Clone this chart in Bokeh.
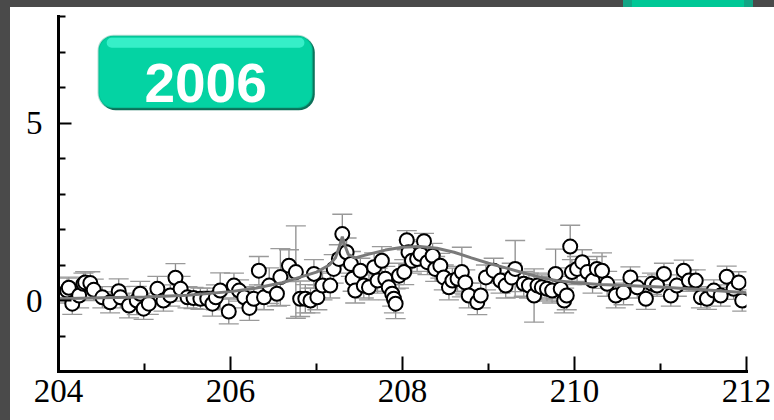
from bokeh.plotting import figure
from bokeh.models import (Range1d, FixedTicker, Whisker, ColumnDataSource, BoxAnnotation,
                          Label, Spacer, TeeHead)
from bokeh.layouts import row, column
from bokeh.embed import file_html
from bokeh.resources import INLINE

# measured points: position, value, uncertainty
x_vals = [204.10, 204.12, 204.16, 204.24, 204.29, 204.31, 204.37, 204.41, 204.51, 204.60,
          204.70, 204.72, 204.82, 204.91, 204.95, 204.99, 205.05, 205.15, 205.22, 205.30,
          205.36, 205.42, 205.50, 205.57, 205.65, 205.73, 205.79, 205.83, 205.88, 205.98,
          206.04, 206.10, 206.16, 206.22, 206.27, 206.33, 206.39, 206.45, 206.54, 206.58,
          206.68, 206.76, 206.81, 206.87, 206.93, 206.97, 207.01, 207.07, 207.16, 207.20,
          207.26, 207.30, 207.35, 207.40, 207.42, 207.45, 207.51, 207.55, 207.61, 207.67,
          207.71, 207.76, 207.80, 207.84, 207.88, 207.90, 207.92, 207.96, 208.02, 208.05,
          208.07, 208.11, 208.17, 208.21, 208.25, 208.29, 208.35, 208.38, 208.44, 208.48,
          208.54, 208.58, 208.64, 208.69, 208.73, 208.77, 208.87, 208.91, 208.97, 209.06,
          209.14, 209.20, 209.27, 209.31, 209.41, 209.47, 209.53, 209.57, 209.62, 209.68,
          209.74, 209.78, 209.84, 209.88, 209.91, 209.95, 209.97, 210.03, 210.09, 210.15,
          210.21, 210.26, 210.32, 210.38, 210.48, 210.57, 210.65, 210.73, 210.83, 210.90,
          210.96, 211.04, 211.12, 211.19, 211.27, 211.33, 211.41, 211.47, 211.54, 211.62,
          211.70, 211.77, 211.85, 211.91, 211.95]
y_vals = [0.28, 0.36, -0.09, 0.14, 0.47, 0.51, 0.49, 0.30, 0.09, -0.05,
          0.26, 0.09, -0.14, 0.00, 0.19, -0.23, -0.09, 0.33, 0.00, 0.14,
          0.64, 0.33, 0.09, 0.07, 0.05, 0.05, -0.09, 0.09, 0.28, -0.31,
          0.42, 0.28, 0.09, -0.21, 0.05, 0.84, 0.09, 0.42, 0.19, 0.66,
          0.98, 0.80, 0.05, 0.05, 0.00, 0.75, 0.09, 0.42, 0.42, 0.89,
          1.17, 1.87, 1.36, 1.03, 0.61, 0.28, 0.84, 0.42, 0.37, 0.94,
          0.56, 1.12, 0.61, 0.37, 0.19, 0.05, -0.09, 0.70, 0.80, 1.70,
          1.36, 1.12, 1.17, 1.31, 1.67, 1.08, 1.26, 0.89, 0.98, 0.65,
          0.37, 0.56, 0.61, 0.80, 0.51, 0.14, -0.05, 0.14, 0.65, 0.84,
          0.56, 0.42, 0.65, 0.89, 0.47, 0.42, 0.14, 0.42, 0.37, 0.33,
          0.28, 0.75, 0.33, 0.00, 0.14, 1.52, 0.80, 0.89, 1.08, 0.80,
          0.56, 0.89, 0.84, 0.47, 0.14, 0.23, 0.65, 0.37, 0.05, 0.47,
          0.42, 0.75, 0.14, 0.42, 0.84, 0.56, 0.56, 0.09, 0.05, 0.28,
          0.14, 0.67, 0.33, 0.51, 0.00]
y_err = [0.35, 0.30, 0.30, 0.35, 0.30, 0.30, 0.32, 0.30, 0.30, 0.30,
         0.35, 0.30, 0.35, 0.40, 0.35, 0.30, 0.30, 0.35, 0.30, 0.30,
         0.40, 0.35, 0.30, 0.30, 0.30, 0.30, 0.35, 0.35, 0.50, 0.35,
         0.35, 0.30, 0.30, 0.35, 0.30, 0.40, 0.35, 0.50, 0.35, 0.80,
         0.45, 1.30, 0.50, 0.40, 0.35, 0.40, 0.35, 0.40, 0.35, 0.40,
         0.40, 0.56, 0.40, 0.35, 0.35, 0.35, 0.35, 0.35, 0.35, 0.40,
         0.35, 0.40, 0.35, 0.35, 0.35, 0.40, 0.42, 0.35, 0.35, 0.27,
         0.35, 0.35, 0.35, 0.35, 0.22, 0.35, 0.35, 0.35, 0.35, 0.35,
         0.35, 0.35, 0.35, 0.70, 0.35, 0.35, 0.35, 0.35, 0.35, 0.35,
         0.35, 0.35, 0.40, 0.80, 0.35, 0.35, 0.75, 0.35, 0.35, 0.35,
         0.35, 0.70, 0.35, 0.35, 0.40, 0.60, 0.35, 0.35, 0.35, 0.35,
         0.35, 0.35, 0.50, 0.35, 0.35, 0.35, 0.30, 0.30, 0.30, 0.30,
         0.30, 0.30, 0.30, 0.30, 0.30, 0.30, 0.30, 0.30, 0.30, 0.30,
         0.30, 0.30, 0.30, 0.30, 0.30]

# fitted curve
fit_x = [204.0, 204.5, 205.0, 205.5, 206.0, 206.3, 206.6, 206.8, 207.0, 207.15,
         207.22, 207.27, 207.30, 207.33, 207.37, 207.45, 207.6, 207.8, 208.0, 208.2,
         208.4, 208.6, 208.8, 209.0, 209.2, 209.4, 209.6, 209.8, 210.0, 210.3,
         210.6, 211.0, 211.5, 212.0]
fit_y = [0.05, 0.08, 0.10, 0.15, 0.25, 0.35, 0.50, 0.65, 0.80, 1.00,
         1.20, 1.55, 1.80, 1.55, 1.30, 1.20, 1.30, 1.42, 1.50, 1.52,
         1.47, 1.36, 1.20, 1.05, 0.92, 0.78, 0.65, 0.56, 0.50, 0.45,
         0.42, 0.38, 0.30, 0.22]

x_major = [204, 206, 208, 210, 212]
x_minor = [205, 207, 209, 211]
y_major = [0, 5]
y_minor = [-1, 1, 2, 3, 4, 6, 7, 8]

DARK = "#4a4a4a"

# slide frame: a thin top strip carrying a green tab, and a left strip
band_css = ("linear-gradient(to right, #4a4a4a 0px, #4a4a4a 613px, #12a585 613px, "
            "#12a585 622px, #00c896 622px, #00c896 734px, #12a585 734px, #12a585 743px, "
            "#4a4a4a 743px, #4a4a4a 764px)")
top_band = Spacer(width=764, height=7, styles={"background": band_css})
left_band = Spacer(width=10, height=420, styles={"background-color": DARK})

src = ColumnDataSource(dict(
    x=x_vals, y=y_vals,
    upper=[v + e for v, e in zip(y_vals, y_err)],
    lower=[v - e for v, e in zip(y_vals, y_err)],
))

p = figure(width=764, height=413, output_backend="svg", toolbar_location=None,
           x_range=Range1d(204, 212), y_range=Range1d(-2, 8),
           min_border_left=48, min_border_right=28, min_border_top=9, min_border_bottom=49)
p.background_fill_color = "white"
p.border_fill_color = "white"
p.outline_line_color = None
p.xgrid.visible = False
p.ygrid.visible = False

for ax in (p.xaxis[0], p.yaxis[0]):
    ax.axis_line_width = 3
    ax.axis_line_cap = "square"
    ax.major_tick_line_width = 2
    ax.minor_tick_line_width = 2
    ax.major_tick_out = 0
    ax.minor_tick_out = 0
    ax.major_label_text_font = "Liberation Serif"
    ax.major_label_text_font_size = "33px"
    ax.major_label_text_color = "black"

p.xaxis[0].ticker = FixedTicker(ticks=x_major, minor_ticks=x_minor)
p.xaxis[0].major_tick_in = 15
p.xaxis[0].minor_tick_in = 8
p.xaxis[0].major_label_standoff = 8

p.yaxis[0].ticker = FixedTicker(ticks=y_major, minor_ticks=y_minor)
p.yaxis[0].major_tick_in = 13
p.yaxis[0].minor_tick_in = 7
p.yaxis[0].major_label_standoff = 16
p.yaxis[0].major_label_orientation = "horizontal"

# error bars
whisk = Whisker(source=src, base="x", upper="upper", lower="lower",
                line_color="#8c8c8c", line_width=1.3,
                upper_head=TeeHead(size=20, line_color="#9a9a9a", line_width=1.3),
                lower_head=TeeHead(size=20, line_color="#9a9a9a", line_width=1.3))
p.add_layout(whisk)

p.scatter("x", "y", source=src, size=14, fill_color="white", line_color="black", line_width=2)
p.line(fit_x, fit_y, line_color="#7a7a7a", line_width=3)

# year badge
p.add_layout(BoxAnnotation(left=204.48, right=206.98, top=7.43, bottom=5.36,
                           fill_color="#0b6f58", fill_alpha=1, line_color=None, border_radius=16))
p.add_layout(BoxAnnotation(left=204.465, right=206.955, top=7.46, bottom=5.42,
                           fill_color="#04d3a3", fill_alpha=1, line_color="#0c9675",
                           line_width=2, border_radius=15))
p.add_layout(BoxAnnotation(left=204.56, right=206.86, top=7.40, bottom=7.12,
                           fill_color="#3ff3cf", fill_alpha=0.85, line_color=None, border_radius=10))
p.add_layout(Label(x=205.71, y=6.14, text="2006", text_align="center", text_baseline="middle",
                   text_font="Liberation Sans", text_font_size="55px", text_font_style="bold",
                   text_color="white"))

layout = row(left_band, column(top_band, p, spacing=0), spacing=0)

open("out.html", "w").write(file_html(layout, INLINE))
